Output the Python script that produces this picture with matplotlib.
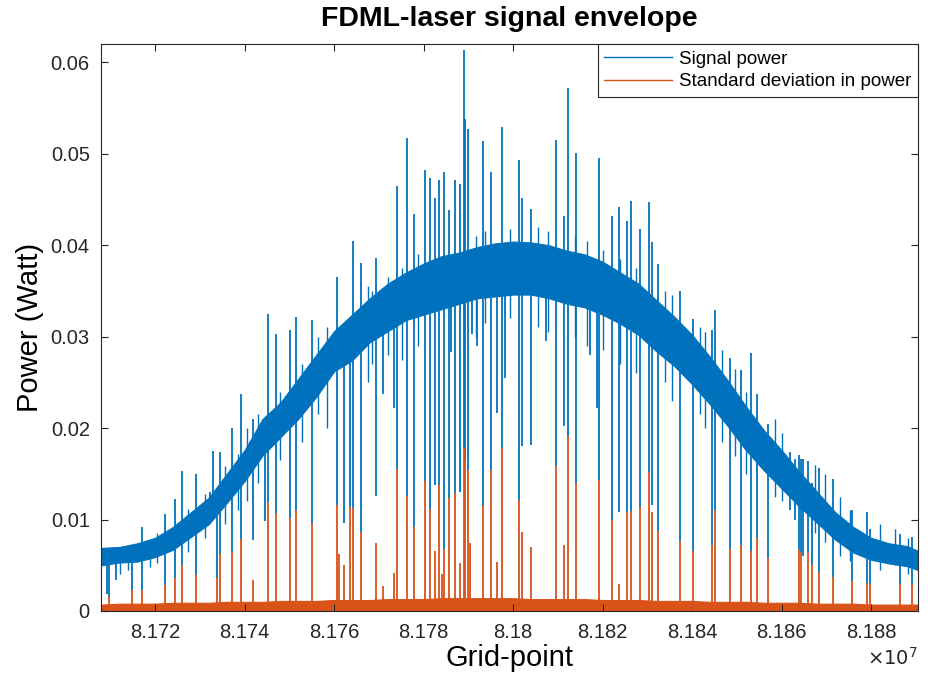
import numpy as np
import matplotlib
matplotlib.use('Agg')
import matplotlib.pyplot as plt
from matplotlib.lines import Line2D
from matplotlib.ticker import FuncFormatter, MultipleLocator

plt.rcParams['font.family'] = ['Liberation Sans', 'DejaVu Sans']

BLUE = '#0072BD'
ORANGE = '#D95319'

# envelope of the noisy signal band (grid point, lower edge, upper edge), in Watt
band_x = [81708000, 81712000, 81716000, 81720000, 81724000, 81728000, 81732000,
          81736000, 81740000, 81744000, 81748000, 81752000, 81756000, 81760000,
          81764000, 81768000, 81772000, 81776000, 81780000, 81784000, 81788000,
          81792000, 81796000, 81800000, 81804000, 81808000, 81812000, 81816000,
          81820000, 81824000, 81828000, 81832000, 81836000, 81840000, 81844000,
          81848000, 81852000, 81856000, 81860000, 81864000, 81868000, 81872000,
          81876000, 81880000, 81884000, 81888000, 81890400]
band_lo = [0.0050, 0.0053, 0.0054, 0.0059, 0.0067, 0.0081, 0.0095,
           0.0118, 0.0142, 0.0170, 0.0190, 0.0210, 0.0234, 0.0262,
           0.0274, 0.0294, 0.0306, 0.0318, 0.0324, 0.0330, 0.0336,
           0.0342, 0.0344, 0.0346, 0.0346, 0.0342, 0.0336, 0.0332,
           0.0324, 0.0314, 0.0302, 0.0284, 0.0268, 0.0248, 0.0226,
           0.0202, 0.0176, 0.0154, 0.0134, 0.0114, 0.0096, 0.0078,
           0.0064, 0.0056, 0.0052, 0.0049, 0.0045]
band_hi = [0.0069, 0.0070, 0.0074, 0.0080, 0.0092, 0.0108, 0.0124,
           0.0150, 0.0176, 0.0210, 0.0228, 0.0254, 0.0280, 0.0306,
           0.0324, 0.0342, 0.0358, 0.0370, 0.0380, 0.0388, 0.0392,
           0.0398, 0.0402, 0.0404, 0.0403, 0.0400, 0.0394, 0.0390,
           0.0382, 0.0370, 0.0358, 0.0340, 0.0322, 0.0302, 0.0278,
           0.0252, 0.0224, 0.0198, 0.0176, 0.0152, 0.0130, 0.0108,
           0.0092, 0.0080, 0.0074, 0.0071, 0.0066]

# small excursions just outside the band (grid point, min, max)
minor_x = [81712200, 81714000, 81718900, 81720400, 81727400, 81731200, 81735600,
           81738600, 81740600, 81743000, 81747900, 81752900, 81756400, 81758400,
           81767600, 81768500, 81772100, 81775200, 81778800, 81791700, 81793700,
           81799300, 81805600, 81807800, 81813900, 81816600, 81820100, 81823900,
           81827500, 81834000, 81835500, 81841800, 81842900, 81846700, 81849600,
           81852100, 81858600, 81860100, 81867500, 81869700, 81873100, 81875300,
           81882000, 81885400, 81888300]
minor_lo = [0.0040, 0.0045, 0.0048, 0.0052, 0.0065, 0.0080, 0.0095,
            0.0110, 0.0120, 0.0140, 0.0165, 0.0185, 0.0215, 0.0200,
            0.0250, 0.0270, 0.0280, 0.0275, 0.0290, 0.0300, 0.0315,
            0.0320, 0.0310, 0.0305, 0.0300, 0.0290, 0.0285, 0.0270,
            0.0260, 0.0250, 0.0230, 0.0215, 0.0200, 0.0185, 0.0170,
            0.0150, 0.0125, 0.0120, 0.0085, 0.0075, 0.0060, 0.0055,
            0.0045, 0.0050, 0.0040]
minor_hi = [0.0065, 0.0072, 0.0078, 0.0085, 0.0112, 0.0128, 0.0158,
            0.0172, 0.0200, 0.0215, 0.0240, 0.0270, 0.0300, 0.0310,
            0.0355, 0.0350, 0.0365, 0.0375, 0.0390, 0.0410, 0.0415,
            0.0418, 0.0420, 0.0415, 0.0410, 0.0405, 0.0395, 0.0385,
            0.0375, 0.0350, 0.0345, 0.0310, 0.0305, 0.0285, 0.0265,
            0.0240, 0.0210, 0.0195, 0.0160, 0.0150, 0.0125, 0.0110,
            0.0095, 0.0090, 0.0080]

# noise floor of the standard deviation trace
std_floor = [0.0007, 0.0008, 0.0008, 0.0008, 0.0009, 0.0009, 0.0009,
             0.0010, 0.0010, 0.0010, 0.0011, 0.0011, 0.0011, 0.0012,
             0.0012, 0.0012, 0.0013, 0.0013, 0.0013, 0.0014, 0.0014,
             0.0014, 0.0014, 0.0014, 0.0013, 0.0013, 0.0013, 0.0013,
             0.0012, 0.0012, 0.0012, 0.0011, 0.0011, 0.0011, 0.0010,
             0.0010, 0.0010, 0.0009, 0.0009, 0.0009, 0.0008, 0.0008,
             0.0008, 0.0007, 0.0007, 0.0007, 0.0007]

# signal power excursions (grid point, min, max)
spike_x = [81709300, 81709700, 81711300, 81714900, 81717100, 81722200, 81724500,
           81726000, 81729200, 81732300, 81733000, 81733900, 81734500, 81737200,
           81739200, 81741900, 81744600, 81745300, 81747000, 81750200, 81751500,
           81755100, 81760700, 81762200, 81763600, 81764300, 81766000, 81769400,
           81771000, 81773400, 81774100, 81776300, 81777900, 81780300, 81781500,
           81782600, 81783500, 81784600, 81785700, 81786200, 81787100, 81788200,
           81789100, 81789300, 81790000, 81790900, 81792000, 81793300, 81795100,
           81796400, 81797600, 81798200, 81801400, 81802000, 81804000, 81807400,
           81809600, 81811400, 81812300, 81814100, 81817200, 81818700, 81819200,
           81822100, 81823700, 81825500, 81826400, 81828400, 81830400, 81831100,
           81832400, 81837300, 81840200, 81844500, 81845200, 81848500, 81851000,
           81853200, 81854500, 81857000, 81861900, 81863000, 81863900, 81864400,
           81864800, 81865900, 81866800, 81868400, 81871500, 81875800, 81879100,
           81879800, 81886500, 81889200]
spike_lo = [0.0019, 0.0015, 0.0034, 0.0023, 0.0023, 0.0028, 0.0036,
            0.0050, 0.0039, 0.0106, 0.0110, 0.0036, 0.0062, 0.0065,
            0.0079, 0.0078, 0.0098, 0.0119, 0.0107, 0.0102, 0.0110,
            0.0096, 0.0116, 0.0096, 0.0114, 0.0113, 0.0086, 0.0126,
            0.0237, 0.0222, 0.0155, 0.0126, 0.0092, 0.0142, 0.0111,
            0.0138, 0.0138, 0.0068, 0.0124, 0.0283, 0.0129, 0.0130,
            0.0178, 0.0164, 0.0154, 0.0303, 0.0290, 0.0115, 0.0154,
            0.0216, 0.0178, 0.0255, 0.0121, 0.0180, 0.0181, 0.0295,
            0.0158, 0.0202, 0.0191, 0.0140, 0.0280, 0.0222, 0.0143,
            0.0100, 0.0108, 0.0108, 0.0109, 0.0114, 0.0152, 0.0116,
            0.0088, 0.0076, 0.0066, 0.0072, 0.0110, 0.0068, 0.0072,
            0.0066, 0.0080, 0.0058, 0.0110, 0.0100, 0.0068, 0.0064,
            0.0060, 0.0064, 0.0050, 0.0043, 0.0037, 0.0033, 0.0031,
            0.0030, 0.0029, 0.0026]
spike_hi = [0.0060, 0.0060, 0.0060, 0.0070, 0.0092, 0.0106, 0.0122,
            0.0153, 0.0150, 0.0130, 0.0175, 0.0135, 0.0174, 0.0200,
            0.0237, 0.0210, 0.0210, 0.0325, 0.0303, 0.0307, 0.0322,
            0.0318, 0.0365, 0.0300, 0.0300, 0.0405, 0.0381, 0.0386,
            0.0320, 0.0330, 0.0465, 0.0517, 0.0434, 0.0482, 0.0474,
            0.0452, 0.0471, 0.0480, 0.0438, 0.0360, 0.0471, 0.0467,
            0.0613, 0.0538, 0.0527, 0.0380, 0.0390, 0.0514, 0.0480,
            0.0370, 0.0529, 0.0380, 0.0493, 0.0452, 0.0440, 0.0390,
            0.0515, 0.0432, 0.0572, 0.0501, 0.0380, 0.0360, 0.0495,
            0.0432, 0.0442, 0.0426, 0.0448, 0.0418, 0.0447, 0.0403,
            0.0379, 0.0350, 0.0319, 0.0307, 0.0329, 0.0277, 0.0263,
            0.0282, 0.0237, 0.0204, 0.0174, 0.0166, 0.0171, 0.0166,
            0.0166, 0.0164, 0.0140, 0.0156, 0.0144, 0.0110, 0.0108,
            0.0090, 0.0084, 0.0081]

# standard deviation peaks (grid point, height)
std_x = [81709700, 81714900, 81717100, 81722200, 81724500, 81726000, 81729200,
         81733900, 81734500, 81737200, 81739200, 81741900, 81745300, 81747000,
         81750200, 81751500, 81755100, 81760700, 81761100, 81762200, 81763600,
         81764300, 81766000, 81769400, 81771000, 81773400, 81774100, 81776300,
         81777900, 81780300, 81781500, 81782600, 81783500, 81784100, 81784600,
         81785700, 81787100, 81788200, 81789100, 81789300, 81790000, 81790400,
         81793300, 81795100, 81796400, 81797600, 81801400, 81802000, 81804000,
         81809600, 81811400, 81812300, 81814100, 81819200, 81822100, 81823700,
         81825500, 81826400, 81828400, 81830400, 81831100, 81832400, 81837300,
         81840200, 81844500, 81845200, 81848500, 81851000, 81853200, 81854500,
         81857000, 81863900, 81864400, 81865900, 81866800, 81868400, 81871500,
         81875800, 81879100, 81879800, 81886500, 81889200]
std_h = [0.0015, 0.0023, 0.0023, 0.0028, 0.0036, 0.0050, 0.0039,
         0.0036, 0.0062, 0.0065, 0.0079, 0.0034, 0.0119, 0.0107,
         0.0102, 0.0110, 0.0096, 0.0116, 0.0062, 0.0050, 0.0114,
         0.0113, 0.0086, 0.0074, 0.0027, 0.0041, 0.0155, 0.0126,
         0.0092, 0.0142, 0.0111, 0.0066, 0.0138, 0.0040, 0.0068,
         0.0124, 0.0129, 0.0052, 0.0178, 0.0164, 0.0154, 0.0074,
         0.0115, 0.0154, 0.0054, 0.0178, 0.0121, 0.0086, 0.0070,
         0.0158, 0.0072, 0.0191, 0.0140, 0.0143, 0.0100, 0.0030,
         0.0108, 0.0109, 0.0114, 0.0152, 0.0108, 0.0088, 0.0076,
         0.0066, 0.0072, 0.0110, 0.0068, 0.0072, 0.0066, 0.0080,
         0.0058, 0.0068, 0.0064, 0.0064, 0.0050, 0.0043, 0.0037,
         0.0033, 0.0031, 0.0030, 0.0029, 0.0029]

fig = plt.figure(figsize=(9.29, 6.74), dpi=100)
ax = fig.add_axes([0.1087, 0.0935, 0.8795, 0.8412])

# signal power
ax.fill_between(band_x, band_lo, band_hi, color=BLUE, linewidth=0.8)
ax.vlines(minor_x, minor_lo, minor_hi, color=BLUE, linewidth=1.0)
ax.vlines(spike_x, spike_lo, spike_hi, color=BLUE, linewidth=1.3)

# standard deviation
ax.fill_between(band_x, 0, std_floor, color=ORANGE, linewidth=0.8)
ax.vlines(std_x, 0, std_h, color=ORANGE, linewidth=1.3)

ax.set_xlim(81707900, 81890500)
ax.set_ylim(0, 0.062)
ax.xaxis.set_major_locator(MultipleLocator(20000))
ax.yaxis.set_major_locator(MultipleLocator(0.01))
ax.xaxis.set_major_formatter(FuncFormatter(lambda v, p: '%g' % round(v / 1e7, 4)))
ax.yaxis.set_major_formatter(FuncFormatter(lambda v, p: '%g' % round(v, 3)))
ax.tick_params(direction='in', top=True, right=True, length=5, width=0.8,
               labelsize=14.5, colors='#262626')
ax.tick_params(axis='x', pad=9)
ax.tick_params(axis='y', pad=8)
for s in ax.spines.values():
    s.set_color('#262626')
    s.set_linewidth(0.8)

ax.text(1.0, -0.083, r'$\times 10^7$', transform=ax.transAxes, ha='right', va='center',
        fontsize=14, color='#262626')

ax.set_title('FDML-laser signal envelope', fontsize=20.5, fontweight='bold', pad=13)
ax.set_xlabel('Grid-point', fontsize=21, labelpad=1)
ax.set_ylabel('Power (Watt)', fontsize=21, labelpad=5)

handles = [Line2D([0], [0], color=BLUE, lw=1.0), Line2D([0], [0], color=ORANGE, lw=1.0)]
leg = ax.legend(handles, ['Signal power', 'Standard deviation in power'], loc='upper right',
                borderaxespad=0, fancybox=False, framealpha=1, edgecolor='#262626',
                fontsize=13.5, handlelength=3.6, handletextpad=0.4, borderpad=0.35,
                labelspacing=0.3)
leg.get_frame().set_linewidth(0.8)

fig.savefig('out.png', dpi=100)
